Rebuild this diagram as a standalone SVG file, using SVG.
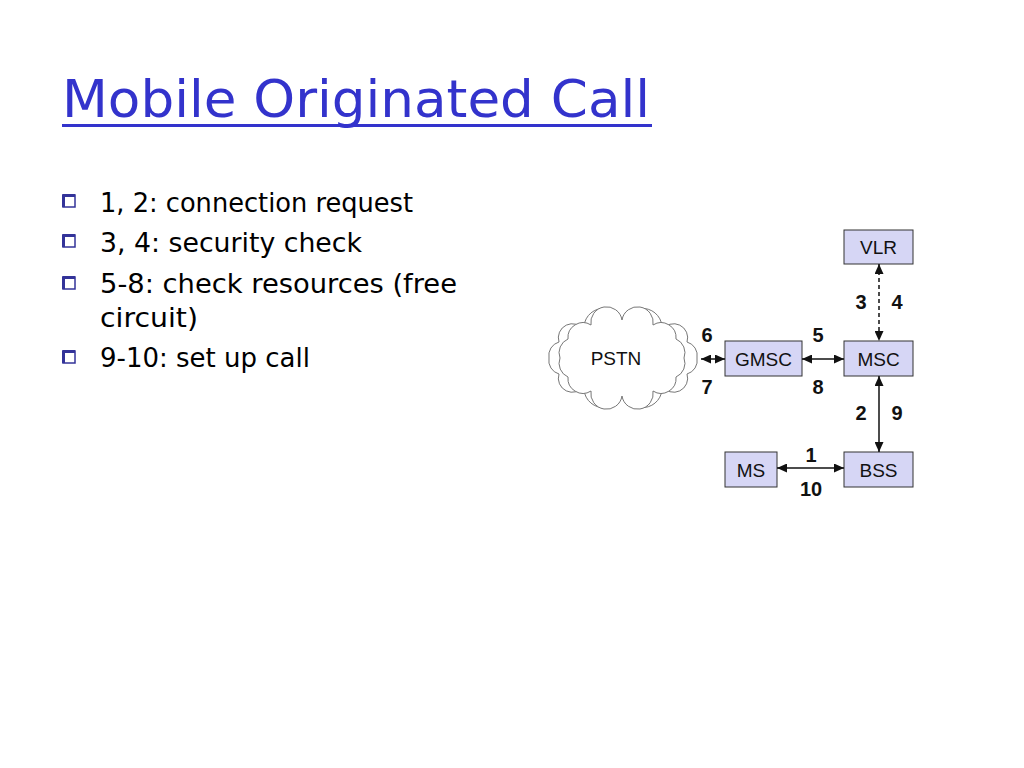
<svg xmlns="http://www.w3.org/2000/svg" width="1024" height="768" viewBox="0 0 1024 768">
<style>
.title{font-family:"DejaVu Sans","Liberation Sans",sans-serif;font-size:52px;fill:#3333CC}
.bul{font-family:"DejaVu Sans","Liberation Sans",sans-serif;font-size:26px;fill:#000}
.node{fill:#D6D6F5;stroke:#333;stroke-width:1}
.nl{font-family:"Liberation Sans",Arial,sans-serif;font-size:19px;fill:#111;text-anchor:middle}
.lab{font-family:"Liberation Sans",Arial,sans-serif;font-size:20px;font-weight:bold;fill:#111;text-anchor:middle}
.con{stroke:#111;stroke-width:1.5;fill:none;marker-start:url(#ah);marker-end:url(#ah)}
.cloud{fill:#fff;stroke:#777;stroke-width:1}
.box{fill:none;stroke:#333399;stroke-width:1.5}
</style>
<defs>
<marker id="ah" markerUnits="userSpaceOnUse" markerWidth="10" markerHeight="9" refX="10" refY="4.5" orient="auto-start-reverse">
<path d="M0,0 L10,4.5 L0,9 z" fill="#111"/>
</marker>
</defs>
<rect width="1024" height="768" fill="#fff"/>
<g id="title">
<text class="title" x="62" y="117" textLength="588" lengthAdjust="spacingAndGlyphs">Mobile Originated Call</text>
<rect x="62" y="124" width="590" height="3" fill="#3333CC"/>
</g>
<g id="bullets">
<g id="b1"><rect class="box" x="63" y="195" width="12" height="12"/><path d="M62.5,195.5 H75 M63.5,195 V207" stroke="#333399" stroke-width="3"/>
<text class="bul" x="100" y="212" textLength="313" lengthAdjust="spacingAndGlyphs">1, 2: connection request</text></g>
<g id="b2"><rect class="box" x="63" y="235" width="12" height="12"/><path d="M62.5,235.5 H75 M63.5,235 V247" stroke="#333399" stroke-width="3"/>
<text class="bul" x="100" y="252" textLength="262" lengthAdjust="spacingAndGlyphs">3, 4: security check</text></g>
<g id="b3"><rect class="box" x="63" y="277" width="12" height="12"/><path d="M62.5,277.5 H75 M63.5,277 V289" stroke="#333399" stroke-width="3"/>
<text class="bul" x="100" y="293" textLength="357" lengthAdjust="spacingAndGlyphs">5-8: check resources (free</text>
<text class="bul" x="100" y="327" textLength="98" lengthAdjust="spacingAndGlyphs">circuit)</text></g>
<g id="b4"><rect class="box" x="63" y="351" width="12" height="12"/><path d="M62.5,351.5 H75 M63.5,351 V363" stroke="#333399" stroke-width="3"/>
<text class="bul" x="100" y="367" textLength="210" lengthAdjust="spacingAndGlyphs">9-10: set up call</text></g>
</g>
<g id="PSTN">
<path class="cloud" d="M697,358 A14,14 0 0 1 687,374 A14,14 0 0 1 662,386 A14,14 0 0 1 623,390 A14,14 0 0 1 584,386 A14,14 0 0 1 559,374 A14,14 0 0 1 549,358 A14,14 0 0 1 559,342 A14,14 0 0 1 584,330 A14,14 0 0 1 623,326 A14,14 0 0 1 662,330 A14,14 0 0 1 687,342 A14,14 0 0 1 697,358 Z"/>
<path class="cloud" d="M684,358 A15,15 0 0 1 676,377 A15,15 0 0 1 653,391 A15,15 0 0 1 622,396 A15,15 0 0 1 591,391 A15,15 0 0 1 568,377 A15,15 0 0 1 560,358 A15,15 0 0 1 568,339 A15,15 0 0 1 591,325 A15,15 0 0 1 622,320 A15,15 0 0 1 653,325 A15,15 0 0 1 676,339 A15,15 0 0 1 684,358 Z"/>
<text class="nl" x="616" y="365">PSTN</text>
</g>
<g id="GMSC"><rect class="node" x="725" y="341" width="77" height="35"/><text class="nl" x="763.5" y="365.5">GMSC</text></g>
<g id="MSC"><rect class="node" x="844" y="341" width="69" height="35"/><text class="nl" x="878.5" y="365.5">MSC</text></g>
<g id="VLR"><rect class="node" x="844" y="230" width="69" height="34"/><text class="nl" x="878.5" y="254">VLR</text></g>
<g id="BSS"><rect class="node" x="844" y="452" width="69" height="35"/><text class="nl" x="878.5" y="476.5">BSS</text></g>
<g id="MS"><rect class="node" x="725" y="452" width="52" height="35"/><text class="nl" x="751" y="476.5">MS</text></g>
<g id="connectors">
<line class="con" x1="701" y1="359" x2="725" y2="359"/>
<line class="con" x1="802" y1="359" x2="844" y2="359"/>
<line class="con" x1="879" y1="264" x2="879" y2="341" stroke-dasharray="4,3"/>
<line class="con" x1="879" y1="376" x2="879" y2="452"/>
<line class="con" x1="777" y1="468" x2="844" y2="468"/>
<text class="lab" x="707" y="342">6</text>
<text class="lab" x="707" y="394">7</text>
<text class="lab" x="818" y="342">5</text>
<text class="lab" x="818" y="394">8</text>
<text class="lab" x="861" y="309">3</text>
<text class="lab" x="897" y="309">4</text>
<text class="lab" x="861" y="420">2</text>
<text class="lab" x="897" y="420">9</text>
<text class="lab" x="811" y="462">1</text>
<text class="lab" x="811" y="496">10</text>
</g>
</svg>
